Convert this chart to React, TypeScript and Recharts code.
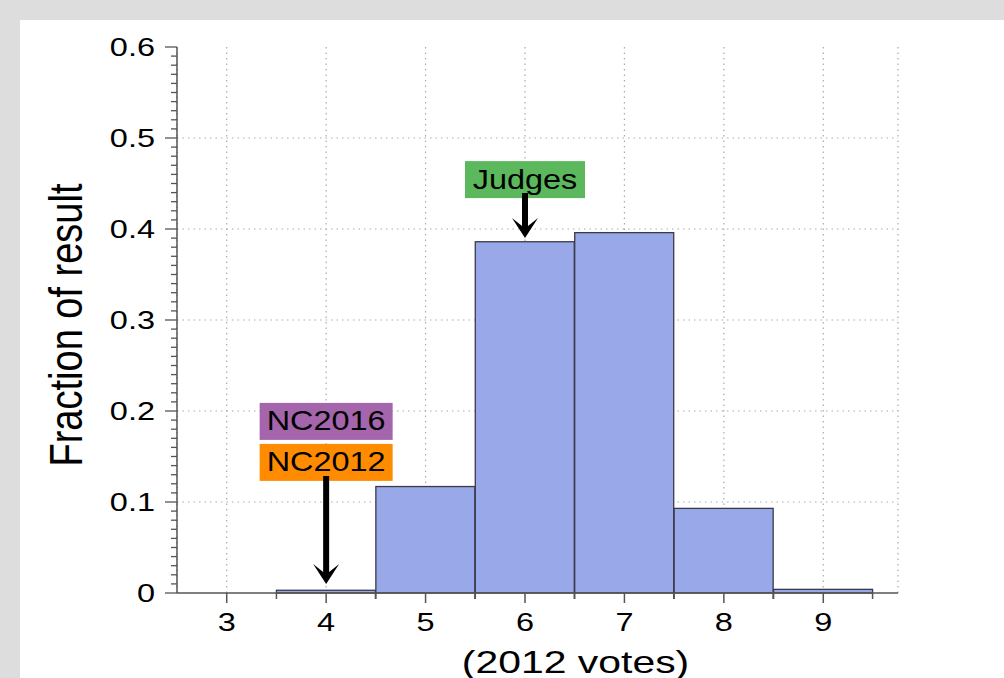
import React from "react";
import { BarChart, Bar, XAxis, YAxis, CartesianGrid, ReferenceDot, Label } from "recharts";

// histogram of 2012 votes
const votes = [3, 4, 5, 6, 7, 8, 9];
const fraction = [0, 0.003, 0.117, 0.386, 0.396, 0.093, 0.004];

const yMajorTicks = [0, 0.1, 0.2, 0.3, 0.4, 0.5, 0.6];
const yTicks = Array.from({ length: 61 }, (_, i) => i / 100);
const gridRows = [0.1, 0.2, 0.3, 0.4, 0.5];

const calloutVotes = [6, 4];
const calloutTips = [0.39, 0.01];
const calloutLabels = [["Judges"], ["NC2016", "NC2012"]];

const rows = votes.map((v, i) => ({ votes: v, fraction: fraction[i] }));

const FONT = "'Liberation Sans', Arial, Helvetica, sans-serif";
const AXIS = "#555";
const labelColors: Record<string, string> = {
  Judges: "#5cb85c",
  NC2016: "#a565ad",
  NC2012: "#ff8c00",
};
const calloutSize: Record<number, { boxW: number; shaft: number }> = {
  6: { boxW: 120, shaft: 40 },
  4: { boxW: 133, shaft: 103 },
};

function StretchText({ x, y, anchor = "middle", size, sx = 1.3, rotate = 0, children }: any) {
  const t = `translate(${x},${y}) scale(${sx},1)` + (rotate ? ` rotate(${rotate})` : "");
  return (
    <text transform={t} textAnchor={anchor} fontSize={size} fontFamily={FONT} fill="#000">
      {children}
    </text>
  );
}

function YTick({ x, y, payload }: any) {
  const v = payload.value;
  const major = yMajorTicks.some((t) => Math.abs(t - v) < 1e-9);
  return (
    <g>
      <line x1={x - (major ? 12 : 6)} x2={x} y1={y} y2={y} stroke={AXIS} strokeWidth={1.3} />
      {major && (
        <StretchText x={x - 22} y={y + 9} anchor="end" size={25}>
          {v === 0 ? "0" : v.toFixed(1)}
        </StretchText>
      )}
    </g>
  );
}

function XTick({ x, y, payload }: any) {
  return (
    <g>
      <line x1={x} x2={x} y1={y} y2={y + 10} stroke={AXIS} strokeWidth={1.5} />
      <StretchText x={x} y={y + 38} size={25}>
        {payload.value}
      </StretchText>
    </g>
  );
}

// bar plus the short bin-edge ticks under the axis
function HistBar({ x, y, width, height }: any) {
  if (!height) return <g />;
  const base = y + height;
  return (
    <g>
      <rect x={x} y={y} width={width} height={height} fill="#98a8e8" stroke="#3a3a4a" strokeWidth={1.3} />
      <line x1={x} x2={x} y1={base} y2={base + 6} stroke={AXIS} strokeWidth={1.5} />
      <line x1={x + width} x2={x + width} y1={base} y2={base + 6} stroke={AXIS} strokeWidth={1.5} />
    </g>
  );
}

function Callout({ cx, cy, labels, boxW, shaft }: any) {
  const boxH = 37;
  const gap = 4;
  const top = cy - shaft - 5;
  const arrow = [
    [cx - 3, top],
    [cx + 3, top],
    [cx + 3, cy - 12],
    [cx + 13, cy - 20],
    [cx, cy],
    [cx - 13, cy - 20],
    [cx - 3, cy - 12],
  ]
    .map((p) => p.join(","))
    .join(" ");
  return (
    <g>
      {labels.map((text: string, i: number) => {
        const bottom = cy - shaft - (labels.length - 1 - i) * (boxH + gap);
        return (
          <g key={text}>
            <rect x={cx - boxW / 2} y={bottom - boxH} width={boxW} height={boxH} fill={labelColors[text]} />
            <StretchText x={cx} y={bottom - boxH / 2 + 9} size={27} sx={1.2}>
              {text}
            </StretchText>
          </g>
        );
      })}
      <polygon points={arrow} fill="#000" />
    </g>
  );
}

export default function App() {
  return (
    <div style={{ position: "absolute", left: 0, top: 0, width: 1004, height: 678, background: "#dddddd" }}>
      <div style={{ position: "absolute", left: 20, top: 20, right: 0, bottom: 0, background: "#fff" }} />
      <div style={{ position: "absolute", left: 0, top: 0 }}>
        <BarChart
          width={1004}
          height={678}
          data={rows}
          margin={{ top: 47, right: 106, bottom: 0, left: 0 }}
          barCategoryGap={0}
          barGap={0}
        >
          <CartesianGrid stroke="#aaa" strokeWidth={1.2} strokeDasharray="1.5 4" horizontalValues={gridRows} />
          <XAxis
            dataKey="votes"
            type="category"
            height={85}
            padding={{ left: 0, right: 25 }}
            interval={0}
            tickSize={0}
            tickMargin={0}
            tickLine={false}
            tick={<XTick />}
            axisLine={{ stroke: AXIS, strokeWidth: 1.5 }}
          >
            <Label
              content={({ viewBox }: any) => (
                <StretchText x={viewBox.x + viewBox.width / 2 + 38} y={viewBox.y + 80} size={31} sx={1.32}>
                  (2012 votes)
                </StretchText>
              )}
            />
          </XAxis>
          <XAxis
            xAxisId="top"
            orientation="top"
            dataKey="votes"
            height={0}
            padding={{ left: 0, right: 25 }}
            tick={false}
            tickLine={false}
            axisLine={{ stroke: AXIS, strokeWidth: 1.5 }}
          />
          <YAxis
            width={177}
            domain={[0, 0.6]}
            ticks={yTicks}
            interval={0}
            tickSize={0}
            tickMargin={0}
            tickLine={false}
            tick={<YTick />}
            axisLine={{ stroke: AXIS, strokeWidth: 1.5 }}
          >
            <Label
              content={({ viewBox }: any) => (
                <StretchText
                  x={viewBox.x + 82}
                  y={viewBox.y + viewBox.height / 2 + 5}
                  size={38}
                  sx={1.2}
                  rotate={-90}
                >
                  Fraction of result
                </StretchText>
              )}
            />
          </YAxis>
          <YAxis
            yAxisId="right"
            orientation="right"
            width={0}
            domain={[0, 0.6]}
            tick={false}
            tickLine={false}
            axisLine={{ stroke: AXIS, strokeWidth: 1.5 }}
          />
          <Bar dataKey="fraction" shape={<HistBar />} isAnimationActive={false} />
          {calloutVotes.map((v, i) => (
            <ReferenceDot
              key={v}
              x={v}
              y={calloutTips[i]}
              r={0}
              shape={(p: any) => (
                <Callout
                  cx={p.cx}
                  cy={p.cy}
                  labels={calloutLabels[i]}
                  boxW={calloutSize[v].boxW}
                  shaft={calloutSize[v].shaft}
                />
              )}
            />
          ))}
        </BarChart>
      </div>
    </div>
  );
}
